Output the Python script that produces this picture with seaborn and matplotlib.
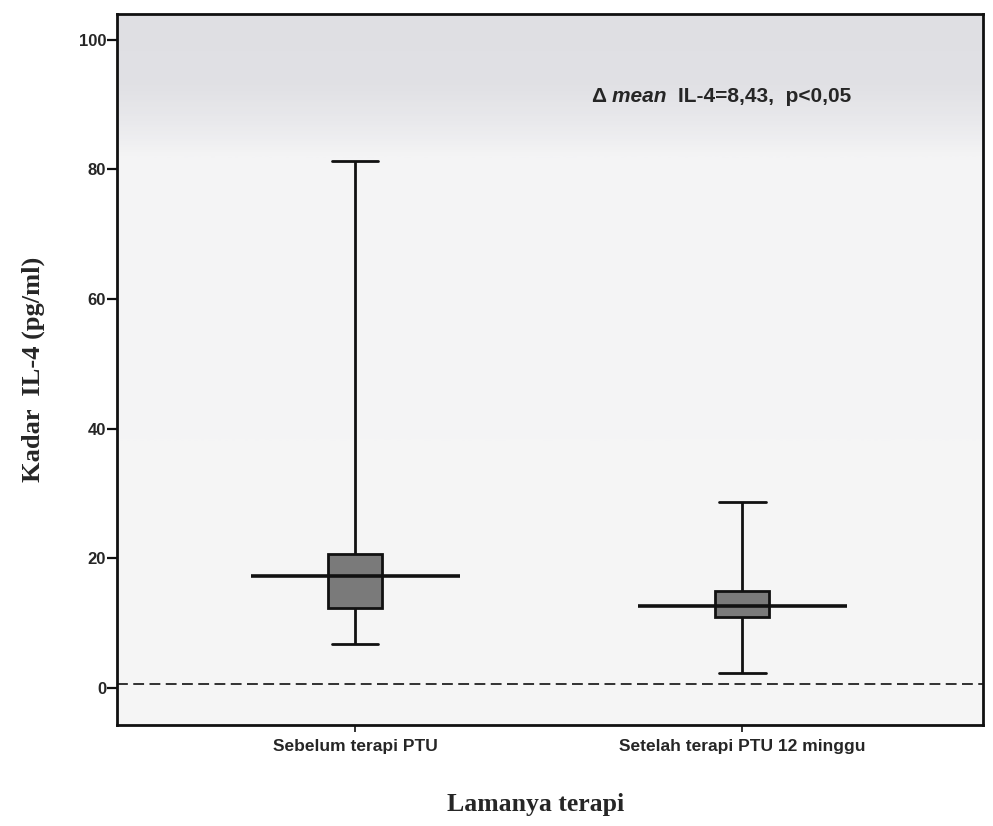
import numpy as np
import pandas as pd
import matplotlib
matplotlib.use("Agg")
import matplotlib.pyplot as plt
import seaborn as sns
from matplotlib.colors import LinearSegmentedColormap

# ---- data ----
categories = ["Sebelum terapi PTU", "Setelah terapi PTU 12 minggu"]
whisker_low = [6.7, 2.3]
q1 = [12.3, 10.9]
center_line = [17.2, 12.6]
q3 = [20.7, 14.9]
whisker_high = [81.3, 28.6]
reference_level = 0.6
y_ticks = [0, 20, 40, 60, 80, 100]
annotation = ("Δ", "mean", "IL-4=8,43,  p<0,05")

rows = []
for i, c in enumerate(categories):
    for v in (whisker_low[i], q1[i], center_line[i], q3[i], whisker_high[i]):
        rows.append({"Lamanya terapi": c, "value": v})
df = pd.DataFrame(rows)

sns.set_theme(style="white")
plt.rcParams["font.family"] = ["Liberation Sans", "DejaVu Sans"]

fig = plt.figure(figsize=(9.93, 8.26), dpi=100)
fig.patch.set_facecolor("white")
ax = fig.add_axes([0.118, 0.122, 0.872, 0.861])
ax.set_facecolor("#f5f5f5")

# top gray band (scan shading)
grad = np.linspace(0, 1, 400).reshape(-1, 1)
cmap = LinearSegmentedColormap.from_list(
    "g", [(0.0, "#f6f6f6"), (0.80, "#f4f4f5"), (0.85, "#e9e9ec"), (0.9, "#e1e1e5"), (1.0, "#dfdfe3")])
ax.imshow(grad, extent=[0, 1, 0.0, 1.0], transform=ax.transAxes, aspect="auto",
          cmap=cmap, origin="lower", zorder=0, vmin=0, vmax=1)

sns.boxplot(data=df, x="Lamanya terapi", y="value", order=categories, ax=ax,
            width=0.14, whis=(0, 100), color="#7a7a7a", linecolor="#111111",
            linewidth=2.0, capwidths=0.12, saturation=1,
            medianprops={"linewidth": 0}, zorder=3)

# long horizontal line across each box
xs = np.arange(len(categories))
ax.hlines(center_line, xs - 0.27, xs + 0.27, colors="#111111", linewidth=2.6, zorder=4)

# dashed reference line
ax.axhline(reference_level, color="#222222", linestyle=(0, (6, 3)), linewidth=1.3, zorder=2)

ax.set_xlim(-0.615, 1.622)
ax.set_ylim(-5.8, 104)
ax.set_yticks(y_ticks)
ax.set_yticklabels([str(t) for t in y_ticks], fontsize=12, fontweight="bold")
ax.set_xticks(xs)
ax.set_xticklabels(categories, fontsize=12.5, fontweight="bold")

for s in ax.spines.values():
    s.set_visible(True)
    s.set_color("#111111")
    s.set_linewidth(2.0)
ax.tick_params(axis="y", direction="out", length=7, width=1.6, color="#111111", pad=1, left=True)
ax.tick_params(axis="x", direction="out", length=5, width=1.2, color="#111111", pad=5, bottom=True)

ax.set_ylabel("Kadar  IL-4 (pg/ml)", family="Liberation Serif", fontweight="bold",
              fontsize=19, labelpad=24)
ax.set_xlabel("Lamanya terapi", family="Liberation Serif", fontweight="bold",
              fontsize=18.5)
ax.xaxis.set_label_coords(0.483, -0.095)

# annotation with italic "mean"
t1 = ax.text(0.548, 0.876, annotation[0] + " ", transform=ax.transAxes,
             fontsize=15, fontweight="bold", va="baseline", ha="left", zorder=5)
t2 = ax.annotate(annotation[1] + "  ", xy=(1, 0), xycoords=t1, va="bottom", ha="left",
                 fontsize=15, fontweight="bold", fontstyle="italic", zorder=5)
t3 = ax.annotate(annotation[2], xy=(1, 0), xycoords=t2, va="bottom", ha="left",
                 fontsize=15, fontweight="bold", zorder=5)

fig.savefig("out.png", dpi=100)
